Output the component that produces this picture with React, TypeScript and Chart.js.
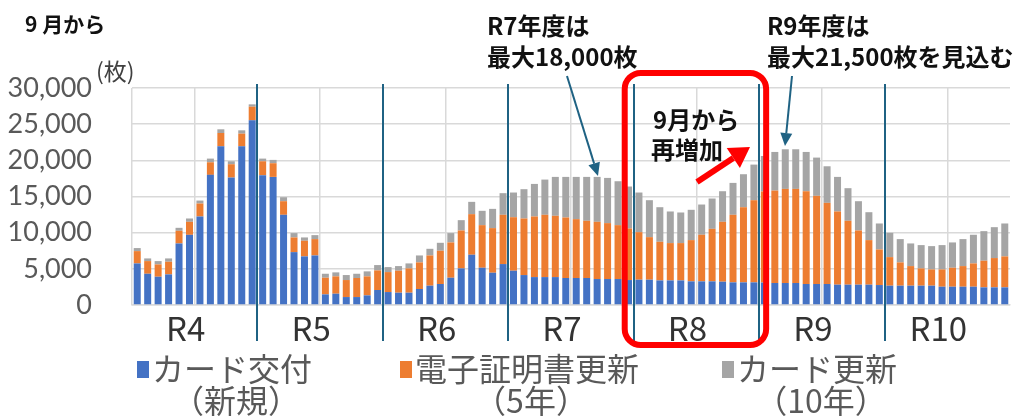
import React, { useEffect, useRef } from 'react';
import { Chart, registerables } from 'chart.js';

Chart.register(...registerables);

const years = ['R4', 'R5', 'R6', 'R7', 'R8', 'R9', 'R10'];
const months = ['4月', '5月', '6月', '7月', '8月', '9月', '10月', '11月', '12月', '1月', '2月', '3月'];
const categories = years.flatMap((y) => months.map((m) => `${y} ${m}`));

// カード交付（新規）
const cardIssue = [
  5750, 4320, 3910, 4230, 8510, 9700, 12240, 17990, 21940, 17620, 21940, 25530,
  17940, 17710, 12470, 7310, 6720, 6850, 1470, 1560, 1100, 1100, 1330, 2070,
  1790, 1700, 1700, 2210, 2670, 2900, 3770, 5060, 6950, 5150, 4460, 5660,
  4740, 4140, 3860, 3860, 3860, 3730, 3730, 3730, 3590, 3590, 3590, 3450,
  3500, 3500, 3400, 3400, 3400, 3270, 3270, 3270, 3220, 3130, 3130, 3130,
  3100, 3040, 3040, 3040, 2900, 2900, 2900, 2810, 2810, 2810, 2810, 2760,
  2670, 2670, 2670, 2670, 2670, 2530, 2530, 2530, 2530, 2440, 2440, 2440,
];

// 電子証明書更新（5年）
const certRenew = [
  1700, 1750, 1700, 1750, 1750, 1800, 1790, 1740, 1840, 1840, 1750, 1890,
  1930, 1890, 1880, 2030, 2160, 2260, 2300, 2400, 2350, 2630, 2630, 2710,
  2760, 3040, 3360, 3680, 4180, 4600, 4880, 5240, 5610, 5890, 6170, 6810,
  7400, 7820, 8380, 8610, 8470, 8370, 8140, 7910, 7910, 7730, 7450, 7130,
  6570, 5880, 5340, 5160, 5160, 5700, 6440, 7260, 8280, 9340, 10390, 11360,
  12600, 12780, 13010, 13010, 12830, 12190, 11220, 10120, 8830, 7490, 6160, 4920,
  3950, 3220, 2710, 2390, 2250, 2390, 2620, 2850, 3220, 3680, 4050, 4280,
];

// カード更新（10年）
const cardRenew = [
  420, 370, 460, 460, 410, 460, 410, 510, 510, 410, 460, 320,
  370, 460, 550, 600, 460, 550, 550, 550, 690, 590, 690, 740,
  690, 640, 690, 960, 920, 1100, 1290, 1430, 1700, 1980, 2660, 2990,
  3410, 4050, 4500, 4870, 5380, 5610, 5840, 6070, 6210, 6250, 6070, 5800,
  5480, 5110, 4780, 4370, 4230, 4190, 4180, 4190, 4230, 4410, 4560, 4920,
  4900, 5340, 5480, 5480, 5430, 5290, 5060, 4780, 4510, 4050, 3860, 3590,
  3360, 3220, 3130, 3220, 3220, 3360, 3500, 3730, 3960, 4090, 4270, 4550,
];

const seriesNames = ['カード交付', '電子証明書更新', 'カード更新'];
const seriesSubNames = ['（新規）', '（5年）', '（10年）'];
const seriesColors = ['#4472C4', '#ED7D31', '#A5A5A5'];

const yTicks = [0, 5000, 10000, 15000, 20000, 25000, 30000];

const JP = '"Noto Sans CJK JP", "Noto Sans", sans-serif';

function arrow(ctx: CanvasRenderingContext2D, x1: number, y1: number, x2: number, y2: number, color: string, lw: number, hl: number, hw: number) {
  const ang = Math.atan2(y2 - y1, x2 - x1);
  const bx = x2 - hl * Math.cos(ang);
  const by = y2 - hl * Math.sin(ang);
  ctx.save();
  ctx.strokeStyle = color;
  ctx.fillStyle = color;
  ctx.lineWidth = lw;
  ctx.beginPath();
  ctx.moveTo(x1, y1);
  ctx.lineTo(bx, by);
  ctx.stroke();
  ctx.beginPath();
  ctx.moveTo(x2, y2);
  ctx.lineTo(bx + hw * Math.sin(ang), by - hw * Math.cos(ang));
  ctx.lineTo(bx - hw * Math.sin(ang), by + hw * Math.cos(ang));
  ctx.closePath();
  ctx.fill();
  ctx.restore();
}

const overlayPlugin = {
  id: 'overlay',
  afterDraw(chart: any) {
    const ctx: CanvasRenderingContext2D = chart.ctx;
    const xs = chart.scales.x;
    const boundary = (i: number) => (xs.getPixelForValue(i - 1) + xs.getPixelForValue(i)) / 2;
    ctx.save();

    // year separator lines
    ctx.strokeStyle = '#1F6283';
    ctx.lineWidth = 2;
    for (let k = 1; k < years.length; k++) {
      const px = Math.round(boundary(k * 12));
      ctx.beginPath();
      ctx.moveTo(px, 84);
      ctx.lineTo(px, 341);
      ctx.stroke();
    }

    // year labels
    ctx.fillStyle = '#333';
    ctx.font = `33px ${JP}`;
    ctx.textAlign = 'center';
    ctx.textBaseline = 'middle';
    years.forEach((y, k) => {
      const cx = (boundary(k * 12) + boundary(k * 12 + 12)) / 2 - 9;
      ctx.fillText(y, cx, 328);
    });

    // unit
    ctx.fillStyle = '#404040';
    ctx.font = `23px ${JP}`;
    ctx.textAlign = 'left';
    ctx.fillText('(枚)', 96, 71);

    // title and notes
    ctx.fillStyle = '#111';
    ctx.font = `bold 21px ${JP}`;
    ctx.fillText('9 月から', 25, 24);
    ctx.font = `bold 24px ${JP}`;
    ctx.fillText('R7年度は', 487, 26);
    ctx.fillText('最大18,000枚', 487, 57);
    ctx.fillText('R9年度は', 767, 26);
    ctx.fillText('最大21,500枚を見込む', 767, 57);
    ctx.fillText('9月から', 653, 120);
    ctx.fillText('再増加', 651, 150);

    // red rounded frame around R8
    const rl = boundary(48) - 9;
    const rr = boundary(60) + 7;
    ctx.strokeStyle = '#FF0000';
    ctx.lineWidth = 6;
    ctx.beginPath();
    (ctx as any).roundRect(rl, 73, rr - rl, 272, 16);
    ctx.stroke();

    // arrows
    arrow(ctx, 567, 76, 598, 176, '#1F6283', 2, 13, 6);
    arrow(ctx, 792, 76, 785, 146, '#1F6283', 2, 13, 6);
    arrow(ctx, 697, 182, 750, 147, '#FF0000', 6, 20, 12);

    // legend
    const legendX = [137, 400, 722];
    ctx.font = `32px ${JP}`;
    ctx.textBaseline = 'middle';
    seriesNames.forEach((name, i) => {
      const lx = legendX[i];
      ctx.fillStyle = seriesColors[i];
      ctx.fillRect(lx, 361, 12, 17);
      ctx.fillStyle = '#595959';
      ctx.textAlign = 'left';
      ctx.fillText(name, lx + 15, 369);
      const w = ctx.measureText(name).width;
      ctx.textAlign = 'center';
      ctx.fillText(seriesSubNames[i], lx + 15 + w / 2 + 4, 401);
    });

    ctx.restore();
  },
};

export default function App() {
  const ref = useRef<HTMLCanvasElement | null>(null);
  useEffect(() => {
    if (!ref.current) return;
    const chart = new Chart(ref.current, {
      type: 'bar',
      data: {
        labels: categories,
        datasets: [
          { label: seriesNames[0], data: cardIssue, backgroundColor: seriesColors[0] },
          { label: seriesNames[1], data: certRenew, backgroundColor: seriesColors[1] },
          { label: seriesNames[2], data: cardRenew, backgroundColor: seriesColors[2] },
        ],
      },
      options: {
        responsive: true,
        maintainAspectRatio: false,
        animation: false,
        datasets: { bar: { barPercentage: 0.67, categoryPercentage: 1.0 } },
        layout: { padding: { top: 88, right: 11, left: 0, bottom: 0 } },
        plugins: { legend: { display: false }, tooltip: { enabled: false } },
        scales: {
          x: {
            stacked: true,
            offset: true,
            ticks: { display: false, autoSkip: false },
            grid: {
              offset: true,
              drawTicks: false,
              lineWidth: 1.5,
              color: (c: any) => {
                const i = c.index;
                if (typeof i !== 'number' || c.type !== 'tick') return 'rgba(0,0,0,0)';
                return i === 0 || i % 12 === 6 ? '#D9D9D9' : 'rgba(0,0,0,0)';
              },
            },
            border: { display: true, color: '#D9D9D9', width: 1.5 },
            afterFit: (s: any) => {
              s.height = 111;
            },
          },
          y: {
            stacked: true,
            min: 0,
            max: 30000,
            afterBuildTicks: (s: any) => {
              s.ticks = yTicks.map((v) => ({ value: v }));
            },
            ticks: {
              padding: 40,
              color: '#595959',
              font: { family: 'Lato', size: 27 },
              callback: (v: any) => Number(v).toLocaleString('en-US'),
            },
            grid: { color: '#D9D9D9', lineWidth: 1.5, drawTicks: false },
            border: { display: false },
            afterFit: (s: any) => {
              s.width = 132;
            },
          },
        },
      },
      plugins: [overlayPlugin],
    });
    return () => chart.destroy();
  }, []);
  return (
    <div style={{ position: 'fixed', left: 0, top: 0, width: 1021, height: 416, background: '#fff' }}>
      <canvas ref={ref} />
    </div>
  );
}
